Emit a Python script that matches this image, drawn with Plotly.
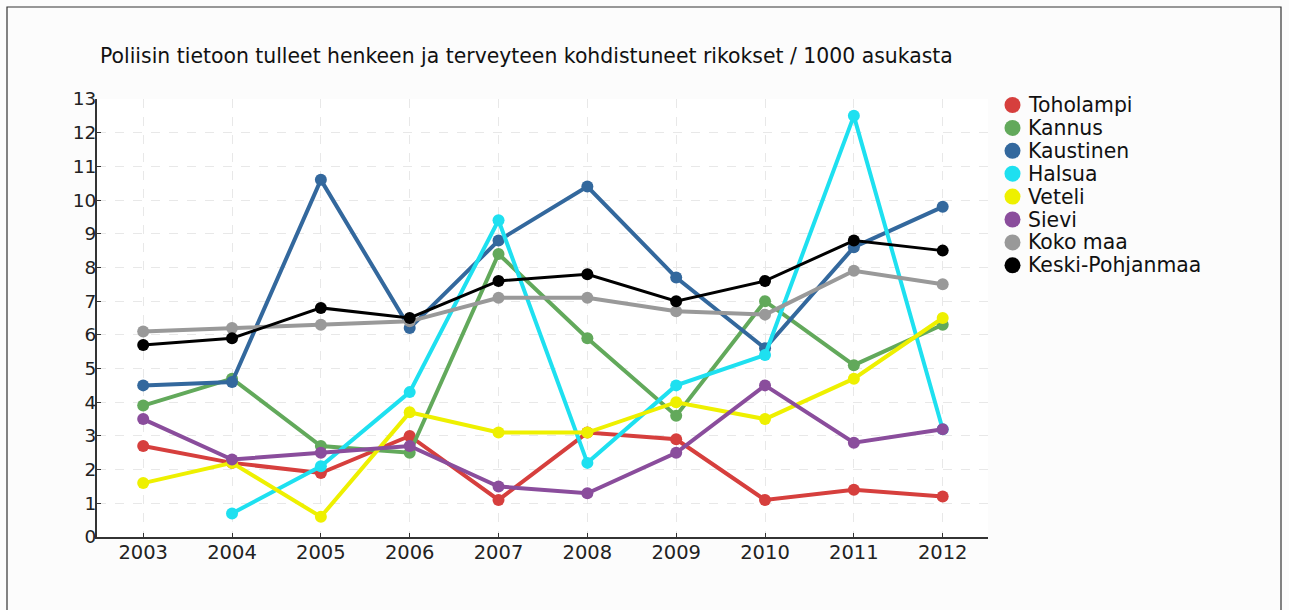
import plotly.graph_objects as go

years = [2003, 2004, 2005, 2006, 2007, 2008, 2009, 2010, 2011, 2012]

toholampi = [2.7, 2.2, 1.9, 3.0, 1.1, 3.1, 2.9, 1.1, 1.4, 1.2]
kannus = [3.9, 4.7, 2.7, 2.5, 8.4, 5.9, 3.6, 7.0, 5.1, 6.3]
kaustinen = [4.5, 4.6, 10.6, 6.2, 8.8, 10.4, 7.7, 5.6, 8.6, 9.8]
halsua = [None, 0.7, 2.1, 4.3, 9.4, 2.2, 4.5, 5.4, 12.5, 3.2]
veteli = [1.6, 2.2, 0.6, 3.7, 3.1, 3.1, 4.0, 3.5, 4.7, 6.5]
sievi = [3.5, 2.3, 2.5, 2.7, 1.5, 1.3, 2.5, 4.5, 2.8, 3.2]
koko_maa = [6.1, 6.2, 6.3, 6.4, 7.1, 7.1, 6.7, 6.6, 7.9, 7.5]
keski_pohjanmaa = [5.7, 5.9, 6.8, 6.5, 7.6, 7.8, 7.0, 7.6, 8.8, 8.5]

names = ["Toholampi", "Kannus", "Kaustinen", "Halsua", "Veteli", "Sievi",
         "Koko maa", "Keski-Pohjanmaa"]
values = [toholampi, kannus, kaustinen, halsua, veteli, sievi, koko_maa, keski_pohjanmaa]
colors = ["#d63f3d", "#62a95b", "#33689d", "#1ee0f0", "#eef000", "#8a4d9c",
          "#999999", "#000000"]
widths = [4, 4, 4, 4, 4, 4, 4, 3]

title = "Poliisin tietoon tulleet henkeen ja terveyteen kohdistuneet rikokset / 1000 asukasta"

fig = go.Figure()
for name, vals, color, lw in zip(names, values, colors, widths):
    fig.add_trace(go.Scatter(
        x=years, y=vals, name=name, mode="lines+markers",
        line=dict(color=color, width=lw),
        marker=dict(color=color, size=12),
        connectgaps=False, showlegend=False,
    ))

W, H = 1289, 610
L, R, T, B = 97, 301, 99, 73
pw = W - L - R
ph = H - T - B


def px_x(p):
    return (p - L) / pw


def px_y(p):
    return (H - B - p) / ph


# legend built as annotations + circle symbols
annotations = []
shapes = []
leg_top = 105
leg_step = 22.9
for i, (name, color) in enumerate(zip(names, colors)):
    cy = leg_top + i * leg_step
    annotations.append(dict(
        xref="paper", yref="paper", x=px_x(1026), y=px_y(cy),
        xanchor="left", yanchor="middle", text=name, showarrow=False,
        font=dict(family="DejaVu Sans", size=20.4, color="#111111"),
    ))
    shapes.append(dict(
        type="circle", xref="paper", yref="paper",
        xsizemode="pixel", ysizemode="pixel",
        xanchor=px_x(1012.5), yanchor=px_y(cy),
        x0=-8, x1=8, y0=-8, y1=8,
        line=dict(width=0), fillcolor=color,
    ))

shapes.append(dict(type="rect", xref="paper", yref="paper",
                   x0=px_x(7), x1=px_x(1281), y0=px_y(640), y1=px_y(7),
                   line=dict(color="#333333", width=1.2), fillcolor="rgba(0,0,0,0)",
                   layer="below"))

fig.update_layout(
    width=W, height=H,
    margin=dict(l=L, r=R, t=T, b=B, pad=0),
    paper_bgcolor="#fcfcfc",
    plot_bgcolor="#ffffff",
    font=dict(family="DejaVu Sans", size=18, color="#222222"),
    title=dict(text=title, x=100 / W, xanchor="left", y=1 - 56 / H, yanchor="middle",
               font=dict(family="DejaVu Sans", size=20.4, color="#111111")),
    showlegend=False,
    xaxis=dict(range=[2002.48, 2012.51], tickmode="array", tickvals=years,
               ticktext=[str(y) for y in years], showline=True, linecolor="#333333",
               linewidth=2, ticks="inside", ticklen=4, tickcolor="#333333",
               showgrid=True, gridcolor="#e8e8e8", griddash="dash", zeroline=False,
               tickfont=dict(size=19.5), ticklabelstandoff=-3),
    yaxis=dict(range=[0, 13], tickmode="linear", tick0=0, dtick=1, showline=True,
               linecolor="#333333", linewidth=2, ticks="inside", ticklen=4,
               tickcolor="#333333", showgrid=True, gridcolor="#e8e8e8", griddash="dash",
               zeroline=False, tickfont=dict(size=18.5), ticklabelstandoff=-5),
    annotations=annotations,
    shapes=shapes,
)

fig.write_html("out.html", config={"displayModeBar": False},
               post_script="document.body.style.margin='0';")
